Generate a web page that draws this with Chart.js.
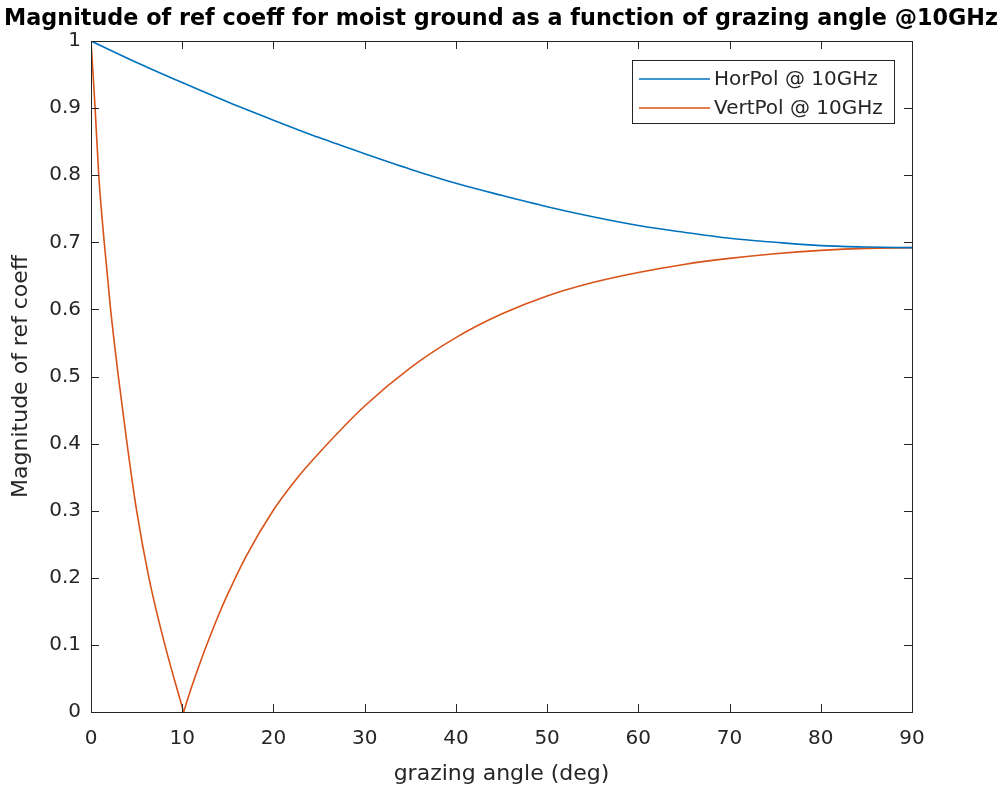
<!DOCTYPE html>
<html>
<head>
<meta charset="utf-8">
<script src="https://cdn.jsdelivr.net/npm/chart.js@4.4.1/dist/chart.umd.min.js"></script>
<style>
html,body{margin:0;padding:0;background:#fff;}
#wrap{width:1002px;height:796px;}
</style>
</head>
<body>
<div id="wrap"><canvas id="c" width="1002" height="796"></canvas></div>
<script>
const titleText = 'Magnitude of ref coeff for moist ground as a function of grazing angle @10GHz';
const xTitle = 'grazing angle (deg)';
const yTitle = 'Magnitude of ref coeff';
const xTickLabels = ['0','10','20','30','40','50','60','70','80','90'];
const yTickLabels = ['0','0.1','0.2','0.3','0.4','0.5','0.6','0.7','0.8','0.9','1'];

const horAngles = [0,5,10,15,20,25,30,35,40,45,50,55,60,65,70,75,80,85,90];
const horValues = [1.0,0.968,0.938,0.909,0.882,0.856,0.832,0.809,0.788,0.770,0.753,0.738,0.725,0.715,0.706,0.700,0.695,0.693,0.692];

const vertAngles = [0,0.45,0.85,1.45,2.15,3.0,3.95,5.0,6.35,8.1,10.15,11,12,13,14,15,17,20,22.5,25,30,35,40,45,50,55,60,65,70,75,80,85,90];
const vertValues = [1.0,0.9,0.8,0.7,0.6,0.5,0.4,0.3,0.2,0.1,0.0,0.036,0.075,0.111,0.145,0.176,0.232,0.301,0.347,0.386,0.456,0.513,0.558,0.593,0.620,0.640,0.655,0.667,0.676,0.683,0.688,0.691,0.692];

const seriesLabels = ['HorPol @ 10GHz','VertPol @ 10GHz'];
const seriesColors = ['#0072BD','#D95319'];

const AX = '#262626';
const FONT = '"DejaVu Sans", "Liberation Sans", Arial, sans-serif';

const toXY = (xs, ys) => xs.map((x, i) => ({x: x, y: ys[i]}));
// the VertPol curve has a sharp minimum (Brewster angle); draw it as two smooth pieces
const vMin = vertValues.indexOf(Math.min(...vertValues));
const vertLeft = toXY(vertAngles.slice(0, vMin + 1), vertValues.slice(0, vMin + 1));
const vertRight = toXY(vertAngles.slice(vMin), vertValues.slice(vMin));

const boxTicks = {
  id: 'boxTicks',
  afterDatasetsDraw(chart) {
    const {ctx, chartArea: a, scales} = chart;
    const xs = scales.x, ys = scales.y;
    ctx.save();
    ctx.strokeStyle = AX;
    ctx.lineWidth = 1;
    const L = 8;
    ctx.beginPath();
    xs.ticks.forEach(t => {
      const px = Math.round(xs.getPixelForValue(t.value)) + 0.5;
      ctx.moveTo(px, a.bottom); ctx.lineTo(px, a.bottom - L);
      ctx.moveTo(px, a.top); ctx.lineTo(px, a.top + L);
    });
    ys.ticks.forEach(t => {
      const py = Math.round(ys.getPixelForValue(t.value)) + 0.5;
      ctx.moveTo(a.left, py); ctx.lineTo(a.left + L, py);
      ctx.moveTo(a.right, py); ctx.lineTo(a.right - L, py);
    });
    ctx.stroke();
    ctx.strokeRect(Math.round(a.left) + 0.5, Math.round(a.top) + 0.5, Math.round(a.right - a.left), Math.round(a.bottom - a.top));
    // legend
    const lx = 632, ly = 60, lw = 262, lh = 63;
    ctx.fillStyle = '#fff';
    ctx.fillRect(lx, ly, lw, lh);
    ctx.strokeStyle = AX;
    ctx.strokeRect(lx + 0.5, ly + 0.5, lw, lh);
    ctx.font = '20px ' + FONT;
    ctx.textBaseline = 'middle';
    ctx.textAlign = 'left';
    seriesLabels.forEach((lab, i) => {
      const y = ly + 19 + i * 29;
      ctx.strokeStyle = seriesColors[i];
      ctx.lineWidth = 1.6;
      ctx.beginPath(); ctx.moveTo(639, y); ctx.lineTo(710, y); ctx.stroke();
      ctx.fillStyle = AX;
      ctx.fillText(lab, 714, y + 1);
    });
    // title
    ctx.font = 'bold 22.3px ' + FONT;
    ctx.textAlign = 'center';
    ctx.fillStyle = '#000';
    ctx.fillText(titleText, 501, 19);
    ctx.restore();
  }
};

const lineStyle = {borderWidth: 1.6, pointRadius: 0, cubicInterpolationMode: 'monotone', fill: false};

new Chart(document.getElementById('c'), {
  type: 'line',
  data: {
    datasets: [
      Object.assign({label: seriesLabels[0], data: toXY(horAngles, horValues), borderColor: seriesColors[0]}, lineStyle),
      Object.assign({label: seriesLabels[1], data: vertLeft, borderColor: seriesColors[1]}, lineStyle),
      Object.assign({label: seriesLabels[1], data: vertRight, borderColor: seriesColors[1]}, lineStyle)
    ]
  },
  options: {
    responsive: false,
    animation: false,
    devicePixelRatio: 1,
    layout: {padding: {top: 41, right: 90, left: 0, bottom: 0}},
    plugins: {legend: {display: false}, title: {display: false}, tooltip: {enabled: false}},
    scales: {
      x: {
        type: 'linear', min: 0, max: 90,
        border: {display: false},
        grid: {display: false, drawTicks: false},
        ticks: {stepSize: 10, color: AX, padding: 15, font: {size: 20, family: FONT},
          callback: (v) => xTickLabels[Math.round(v / 10)]},
        title: {display: true, text: xTitle, color: AX, font: {size: 22, family: FONT}, padding: {top: 0, bottom: 9}},
        afterFit: (s) => { s.height = 84; }
      },
      y: {
        type: 'linear', min: 0, max: 1,
        border: {display: false},
        grid: {display: false, drawTicks: false},
        ticks: {stepSize: 0.1, color: AX, padding: 10, font: {size: 20, family: FONT},
          callback: (v) => yTickLabels[Math.round(v * 10)]},
        title: {display: true, text: yTitle, color: AX, font: {size: 22, family: FONT}, padding: {top: 8, bottom: 0}},
        afterFit: (s) => { s.width = 91; }
      }
    }
  },
  plugins: [boxTicks]
});
</script>
</body>
</html>
